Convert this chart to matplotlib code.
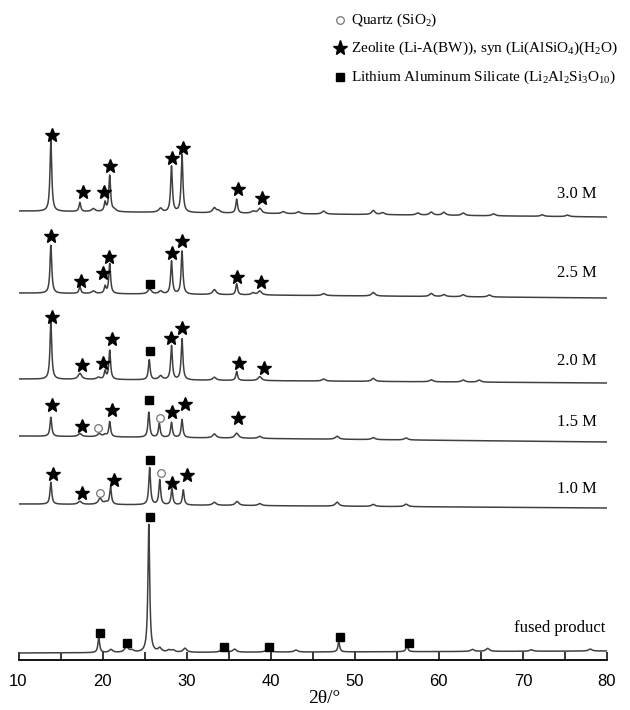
import numpy as np
import matplotlib
matplotlib.use("Agg")
import matplotlib.pyplot as plt

plt.rcParams['mathtext.fontset'] = 'custom'
plt.rcParams['mathtext.rm'] = 'Liberation Serif'
plt.rcParams['mathtext.it'] = 'Liberation Serif:italic'

# sample names, bottom to top
samples = ["fused product", "1.0 M", "1.5 M", "2.0 M", "2.5 M", "3.0 M"]

# baseline (left end, right end) of each trace, in stacked intensity units
base_left = [7, 156, 224, 281, 367, 449]
base_right = [9, 152, 218, 277, 362, 443]

# peak positions (2theta) and heights above baseline
pk_fused = [19.55, 21.0, 22.85, 23.5, 25.5, 26.8, 27.9, 28.4, 29.8, 34.3, 35.7, 39.7, 43.0, 48.1, 56.2, 64.0, 65.8, 71.0, 78.0]
h_fused = [15, 3, 6, 2, 128, 4, 2, 2, 4, 4, 3, 4, 2, 10, 7, 2, 3, 1.5, 2]

pk_10 = [13.85, 17.3, 19.7, 20.4, 20.95, 25.6, 26.8, 28.25, 29.6, 33.3, 36.0, 38.7, 47.9, 52.2, 56.1]
h_10 = [22, 3, 6, 2, 17, 37, 25, 16, 15, 3, 4, 2, 4, 2, 2.5]

pk_15 = [13.85, 17.3, 19.6, 20.3, 20.85, 25.5, 26.75, 28.2, 29.45, 33.3, 35.95, 38.7, 47.9, 52.2, 56.1]
h_15 = [19, 3, 3, 2, 15, 25, 14, 15, 18, 4, 5, 2, 3, 2, 2]

pk_20 = [13.85, 17.3, 19.5, 20.3, 20.85, 25.55, 26.9, 28.2, 29.45, 33.3, 35.95, 38.7, 46.3, 52.2, 59.1, 62.9, 64.8]
h_20 = [57, 6, 2, 8, 29, 20, 4, 34, 41, 3, 9, 4, 2, 3, 2, 2, 2]

pk_25 = [13.85, 17.3, 18.9, 20.3, 20.85, 25.6, 26.9, 28.2, 29.45, 33.3, 35.95, 37.9, 38.7, 46.3, 52.2, 59.1, 60.6, 62.9, 66.0]
h_25 = [48, 7, 2.5, 7, 30, 5, 3, 33, 43, 5, 11, 2, 4, 2, 3.5, 3, 2, 2, 2]

pk_30 = [13.85, 17.3, 18.9, 20.3, 20.85, 21.4, 26.9, 28.2, 29.45, 33.3, 33.8, 35.95, 37.9, 38.7, 41.5, 43.3, 46.3, 52.2, 53.3, 57.5, 59.1, 60.6, 62.9, 66.5, 72.3, 75.3]
h_30 = [71, 9, 3, 9, 36, 2, 4, 46, 58, 5, 2, 14, 2, 5, 2, 2, 3, 4, 2, 2, 3, 3, 2.5, 2, 1.5, 1.5]

peaks = [(pk_fused, h_fused), (pk_10, h_10), (pk_15, h_15),
         (pk_20, h_20), (pk_25, h_25), (pk_30, h_30)]

# phase markers (2theta, y) per phase
star_x = [13.95, 17.7, 20.2, 20.9, 28.3, 29.6, 36.1, 39.0,
          13.85, 17.4, 20.1, 20.8, 28.2, 29.5, 36.0, 38.9,
          14.0, 17.5, 20.1, 21.1, 28.1, 29.5, 36.2, 39.2,
          13.95, 17.5, 21.1, 28.3, 29.8, 36.1,
          14.05, 17.6, 21.3, 28.2, 30.0]
star_y = [525, 468, 468, 494, 502, 512, 471, 462,
          424, 379, 387, 403, 407, 419, 383, 378,
          343, 295, 297, 321, 322, 332, 297, 292,
          255, 234, 250, 248, 256, 242,
          186, 167, 180, 177, 185]
square_x = [25.7, 25.7, 25.5, 25.6, 25.6, 19.7, 22.9, 34.5, 39.8, 48.3, 56.4]
square_y = [376, 309, 260, 200, 143, 27, 17, 13, 13, 23, 17]
circle_x = [19.5, 26.8, 19.7, 27.0]
circle_y = [232, 242, 167, 187]

label_y = [32, 171, 238, 299, 387, 466]

fig = plt.figure(figsize=(6.3, 7.1), dpi=100)
ax = fig.add_axes([18.5 / 630, 50 / 710, (607 - 18.5) / 630, 660 / 710])

x = np.linspace(10, 80, 7001)
for (pos, hts), b0, b1 in zip(peaks, base_left, base_right):
    y = b0 + (b1 - b0) * (x - 10) / 70
    for p, h in zip(pos, hts):
        w = 0.25 if h > 6 else 0.5
        y = y + h / (1 + ((x - p) / (w / 2)) ** 2)
    ax.plot(x, y, color='#404040', lw=1.1)

ax.plot(star_x, star_y, '*', color='k', ms=10, mec='k', ls='none')
ax.plot(square_x, square_y, 's', color='k', ms=5.5, ls='none')
ax.plot(circle_x, circle_y, 'o', mfc='white', mec='#777777', ms=5.5, mew=0.9, ls='none')

for name, ly in zip(samples, label_y):
    lx = 74.4 if name == "fused product" else 76.4
    ax.text(lx, ly, name, ha='center', va='center', fontsize=12,
            family='Liberation Serif')

# legend at top
leg_x = 48.2
leg_tx = 49.5
ax.plot([leg_x], [640], 'o', mfc='white', mec='#777777', ms=5.5, mew=0.9, clip_on=False)
ax.plot([leg_x], [612], '*', color='k', ms=11, clip_on=False)
ax.plot([leg_x], [583], 's', color='k', ms=5.5, clip_on=False)
ax.text(leg_tx, 640, r'Quartz (SiO$_{2}$)', va='center', fontsize=11, family='Liberation Serif')
ax.text(leg_tx, 612, r'Zeolite (Li-A(BW)), syn (Li(AlSiO$_{4}$)(H$_{2}$O)', va='center',
        fontsize=11, family='Liberation Serif')
ax.text(leg_tx, 583, r'Lithium Aluminum Silicate (Li$_{2}$Al$_{2}$Si$_{3}$O$_{10}$)', va='center',
        fontsize=11, family='Liberation Serif')

ax.set_xlim(10, 80)
ax.set_ylim(0, 660)
for s in ['top', 'right', 'left']:
    ax.spines[s].set_visible(False)
ax.spines['bottom'].set_linewidth(1.3)
ax.set_yticks([])
ax.set_xticks(range(10, 81, 10))
ax.set_xticks(range(15, 80, 10), minor=True)
ax.tick_params(axis='x', which='both', direction='in', length=6, width=1.1, pad=10,
               labelsize=12)
for t in ax.get_xticklabels():
    t.set_family('Liberation Sans')
ax.set_xlabel('2θ/°', fontsize=14, family='Liberation Serif', labelpad=2)
ax.xaxis.set_label_coords(0.52, -0.045)

fig.savefig('out.png', dpi=100)
